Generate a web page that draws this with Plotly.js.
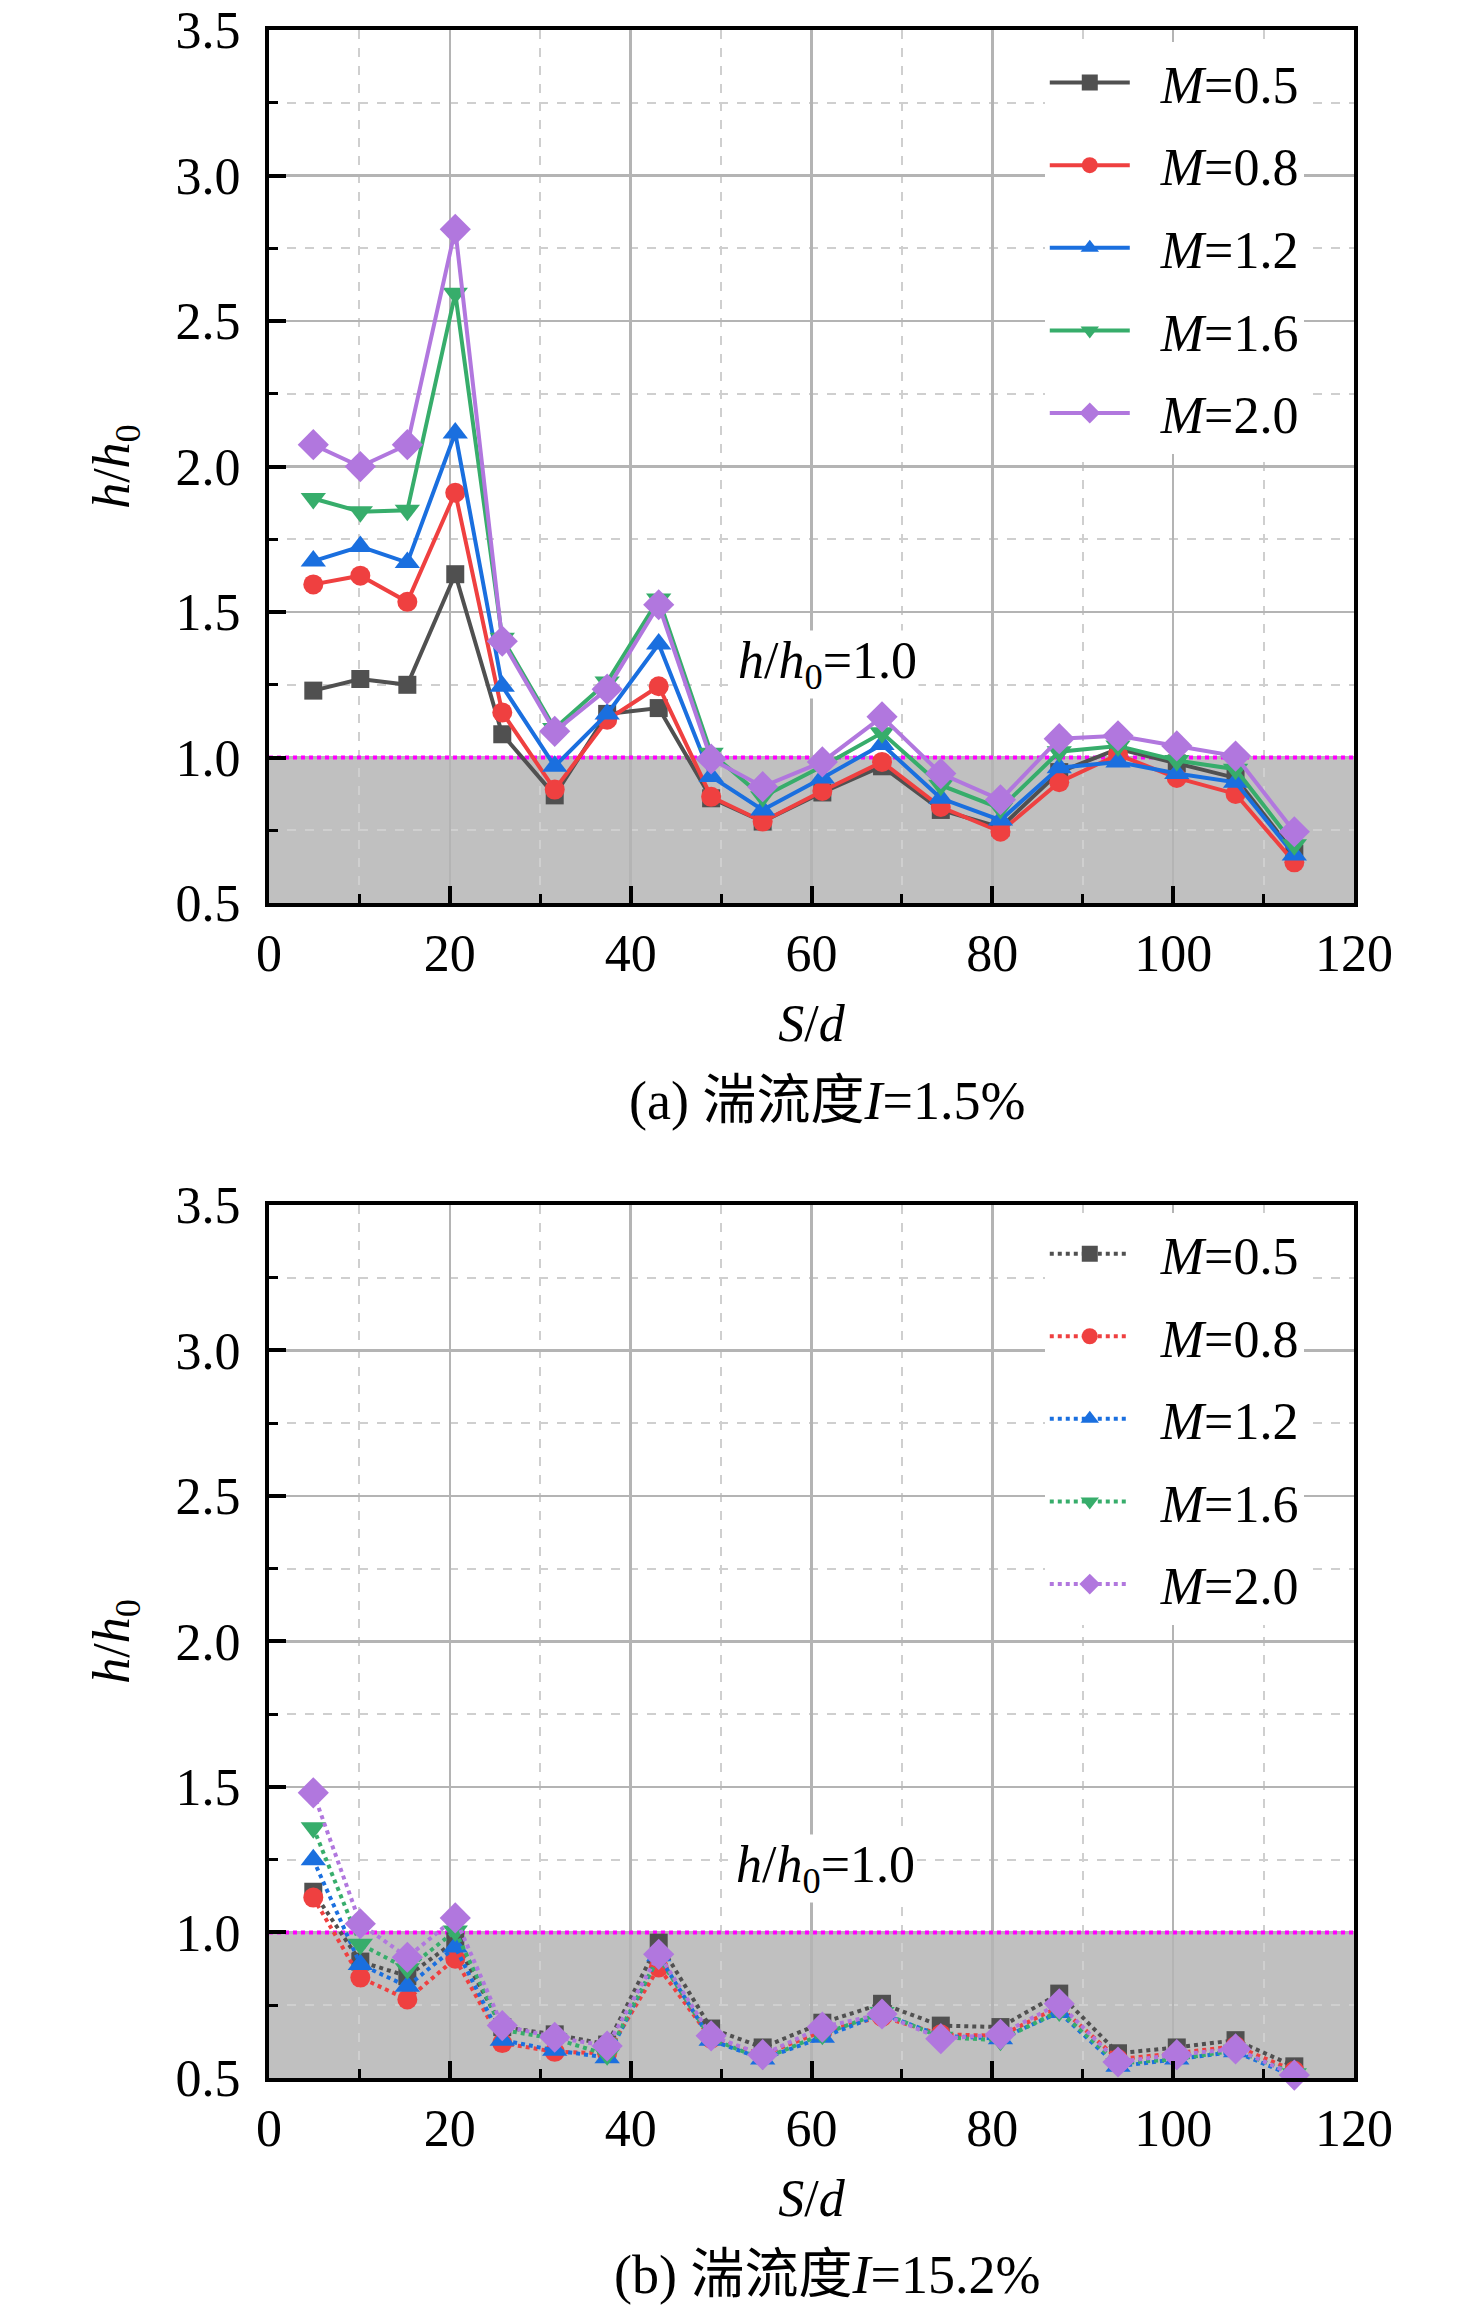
<!DOCTYPE html>
<html>
<head>
<meta charset="utf-8">
<script src="https://cdn.plot.ly/plotly-3.0.1.min.js"></script>
<style>
  html, body { margin: 0; padding: 0; background: #fff; }
  #chart { width: 1476px; height: 2309px; }
</style>
</head>
<body>
<div id="chart"></div>
<script>
// S/d positions of the measuring points
const sd = [4.9, 10.1, 15.3, 20.6, 25.8, 31.6, 37.4, 43.1, 48.9, 54.6,
  61.2, 67.8, 74.3, 80.9, 87.4, 93.9, 100.4, 106.9, 113.4];

const mNames = ["0.5", "0.8", "1.2", "1.6", "2.0"];

// (a) turbulence I = 1.5%
const lowM05 = [1.23, 1.27, 1.25, 1.63, 1.08, 0.87, 1.15, 1.17, 0.86, 0.78,
  0.88, 0.97, 0.82, 0.76, 0.95, 1.03, 0.98, 0.93, 0.67];
const lowM08 = [1.595, 1.625, 1.535, 1.91, 1.155, 0.89, 1.13, 1.245, 0.865, 0.78,
  0.885, 0.985, 0.83, 0.745, 0.915, 1.01, 0.93, 0.875, 0.64];
const lowM12 = [1.675, 1.725, 1.67, 2.115, 1.245, 0.97, 1.15, 1.39, 0.935, 0.82,
  0.93, 1.045, 0.86, 0.785, 0.965, 0.985, 0.945, 0.915, 0.665];
const lowM16 = [1.89, 1.845, 1.85, 2.595, 1.41, 1.1, 1.26, 1.545, 1.015, 0.865,
  0.97, 1.085, 0.905, 0.825, 1.02, 1.04, 0.99, 0.96, 0.7];
const lowM20 = [2.075, 2.0, 2.075, 2.815, 1.4, 1.09, 1.235, 1.525, 0.995, 0.9,
  0.985, 1.14, 0.945, 0.855, 1.065, 1.075, 1.04, 1.005, 0.745];

// (b) turbulence I = 15.2%
const highM05 = [1.14, 0.9, 0.85, 0.97, 0.675, 0.65, 0.615, 0.965, 0.67, 0.605,
  0.69, 0.755, 0.68, 0.675, 0.79, 0.585, 0.605, 0.63, 0.54];
const highM08 = [1.12, 0.845, 0.77, 0.91, 0.62, 0.59, 0.585, 0.88, 0.635, 0.58,
  0.66, 0.71, 0.65, 0.645, 0.745, 0.565, 0.585, 0.61, 0.525];
const highM12 = [1.25, 0.89, 0.815, 0.95, 0.63, 0.595, 0.57, 0.92, 0.63, 0.565,
  0.64, 0.72, 0.645, 0.635, 0.725, 0.54, 0.565, 0.59, 0.505];
const highM16 = [1.36, 0.96, 0.875, 1.005, 0.665, 0.635, 0.58, 0.915, 0.635, 0.565,
  0.65, 0.725, 0.64, 0.63, 0.73, 0.55, 0.565, 0.595, 0.515];
const highM20 = [1.48, 1.03, 0.915, 1.05, 0.68, 0.64, 0.61, 0.925, 0.645, 0.58,
  0.675, 0.72, 0.635, 0.65, 0.755, 0.555, 0.58, 0.6, 0.51];

const yTickVals = [0.5, 1.0, 1.5, 2.0, 2.5, 3.0, 3.5];
const yTickText = ["0.5", "1.0", "1.5", "2.0", "2.5", "3.0", "3.5"];
const xTickVals = [0, 20, 40, 60, 80, 100, 120];

const colors = ["#505050", "#ef4040", "#1a6fdf", "#37ad6b", "#b177de"];
const symbols = ["square", "circle", "triangle-up", "triangle-down", "diamond"];
const sizes = [18, 20, 22, 22, 24];

const fontFamily = "Liberation Serif, Noto Sans CJK SC, serif";

var lowSeries = [lowM05, lowM08, lowM12, lowM16, lowM20];
var highSeries = [highM05, highM08, highM12, highM16, highM20];

var data = [];
lowSeries.forEach((ys, k) => {
  data.push({
    x: sd, y: ys, xaxis: "x", yaxis: "y",
    name: "\u00a0\u00a0<i>M</i>=" + mNames[k],
    mode: "lines+markers",
    legend: "legend",
    legendgroup: "a" + k,
    cliponaxis: false,
    line: { color: colors[k], width: 4 },
    marker: { color: colors[k], size: sizes[k], symbol: symbols[k] },
  });
});
highSeries.forEach((ys, k) => {
  data.push({
    x: sd, y: ys, xaxis: "x2", yaxis: "y2",
    name: "\u00a0\u00a0<i>M</i>=" + mNames[k],
    mode: "lines+markers",
    legend: "legend2",
    legendgroup: "b" + k,
    cliponaxis: false,
    line: { color: colors[k], width: 4, dash: "dot" },
    marker: { color: colors[k], size: sizes[k], symbol: symbols[k] },
  });
});

function xAxis(anchor) {
  return {
    anchor: anchor,
    range: [0, 120],
    tickvals: xTickVals,
    ticks: "inside", ticklen: 17, tickwidth: 4, tickcolor: "#000",
    ticklabelstandoff: 2,
    showline: true, linewidth: 4, linecolor: "#000", mirror: true,
    showgrid: true, gridcolor: "#b4b4b4", gridwidth: 2.5,
    zeroline: false,
    minor: {
      dtick: 10, ticks: "inside", ticklen: 9, tickwidth: 3, tickcolor: "#000",
      showgrid: true, gridcolor: "#cfcfcf", gridwidth: 2, griddash: "dash",
    },
    title: { text: "<i>S</i>/<i>d</i>", standoff: 24, font: { size: 52 } },
  };
}

function yAxis(anchor, domain) {
  return {
    anchor: anchor,
    domain: domain,
    range: [0.5, 3.5],
    tickvals: yTickVals,
    ticktext: yTickText,
    ticks: "inside", ticklen: 17, tickwidth: 4, tickcolor: "#000",
    ticklabelstandoff: 14,
    showline: true, linewidth: 4, linecolor: "#000", mirror: true,
    showgrid: true, gridcolor: "#b4b4b4", gridwidth: 2.5,
    zeroline: false,
    minor: {
      dtick: 0.25, ticks: "inside", ticklen: 9, tickwidth: 3, tickcolor: "#000",
      showgrid: true, gridcolor: "#cfcfcf", gridwidth: 2, griddash: "dash",
    },
    title: { text: "<i>h</i>/<i>h</i><sub>0</sub>", standoff: 30, font: { size: 52 } },
  };
}

function legendBox(yTop) {
  return {
    x: 0.715, xanchor: "left",
    y: yTop, yanchor: "top",
    bgcolor: "#ffffff",
    borderwidth: 0,
    font: { size: 52, family: fontFamily },
    itemwidth: 80,
    tracegroupgap: 12,
    traceorder: "grouped",
  };
}

// shaded band below h/h0 = 1 and the dotted reference line
var shapes = [];
[["x", "y"], ["x2", "y2"]].forEach(([xr, yr]) => {
  shapes.push({
    type: "rect", xref: xr, yref: yr, x0: 0, x1: 120, y0: 0.5, y1: 1.0,
    fillcolor: "#c0c0c0", line: { width: 0 }, layer: "below",
  });
  shapes.push({
    type: "line", xref: xr, yref: yr, x0: 0, x1: 120, y0: 1.0, y1: 1.0,
    line: { color: "#ff00ff", width: 4, dash: "dot" }, layer: "between",
  });
});

var refNote = {
  text: "<i>h</i>/<i>h</i><sub>0</sub>=1.0",
  showarrow: false, bgcolor: "#ffffff",
  font: { size: 52, family: fontFamily },
};

var layout = {
  width: 1476, height: 2309,
  margin: { l: 269, r: 122, t: 30, b: 231 },
  paper_bgcolor: "#ffffff", plot_bgcolor: "#ffffff",
  font: { family: fontFamily, size: 52, color: "#000" },
  showlegend: true,
  xaxis: xAxis("y"),
  yaxis: yAxis("x", [0.5737, 1]),
  xaxis2: xAxis("y2"),
  yaxis2: yAxis("x2", [0, 0.4263]),
  legend: legendBox(0.994),
  legend2: legendBox(0.4222),
  shapes: shapes,
  annotations: [
    Object.assign({ xref: "x", yref: "y", x: 61.8, y: 1.32 }, refNote),
    Object.assign({ xref: "x2", yref: "y2", x: 61.5, y: 1.22 }, refNote),
    {
      text: "(a) 湍流度<i>I</i>=1.5%", xref: "paper", yref: "paper",
      x: 0.514, y: 0.477, xanchor: "center", yanchor: "middle",
      showarrow: false, font: { size: 54 },
    },
    {
      text: "(b) 湍流度<i>I</i>=15.2%", xref: "paper", yref: "paper",
      x: 0.514, y: -0.0962, xanchor: "center", yanchor: "middle",
      showarrow: false, font: { size: 54 },
    },
  ],
};

Plotly.newPlot("chart", data, layout, { staticPlot: true });
</script>
</body>
</html>
